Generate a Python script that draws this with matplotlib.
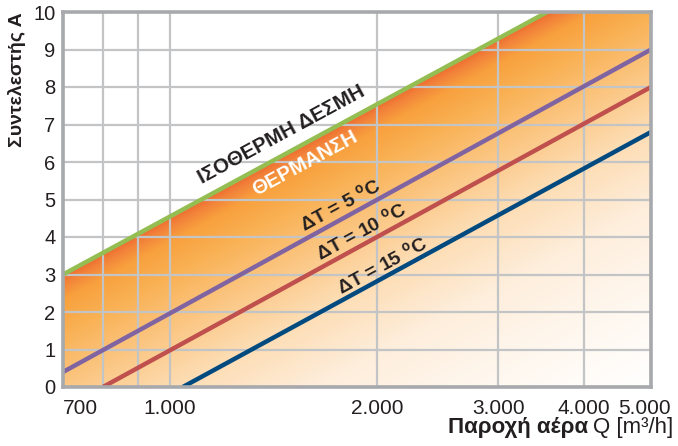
"""Coefficient A vs air flow Q chart (isothermal / heating lines)."""

import matplotlib
matplotlib.use("Agg")
import matplotlib.pyplot as plt
import numpy as np

plt.rcParams["font.family"] = ["Liberation Sans", "DejaVu Sans"]
plt.rcParams["mathtext.fontset"] = "custom"
plt.rcParams["mathtext.rm"] = "Liberation Sans"
plt.rcParams["mathtext.bf"] = "Liberation Sans:bold"

# --- data --------------------------------------------------------------
x_ticks = [700, 1000, 2000, 3000, 4000, 5000]
x_tick_labels = ["700", "1.000", "2.000", "3.000", "4.000", "5.000"]
y_ticks = list(range(0, 11))
x_minor_grid = [800, 900]

isotherm_q = [700, 5000]
isotherm_a = [3.0, 11.5]
dt5_q = [700, 5000]
dt5_a = [0.4, 9.0]
dt10_q = [800, 5000]
dt10_a = [0.0, 8.0]
dt15_q = [1045, 5000]
dt15_a = [0.0, 6.8]

TEXT = "#231f20"
GRID = "#c3c4c6"
SPINE = "#a7a9ac"

fig = plt.figure(figsize=(6.78, 4.46), dpi=100)
pos = [63 / 678, 1 - 387 / 446, (651 - 63) / 678, (387 - 12) / 446]

# background gradient on its own axes (axes fraction coordinates)
bg = fig.add_axes(pos)
bg.axis("off")

ax = fig.add_axes(pos)
ax.patch.set_alpha(0)
ax.set_xscale("log")
ax.set_xlim(700, 5000)
ax.set_ylim(0, 10)

# angle of the (parallel) lines on screen
p0 = ax.transData.transform((isotherm_q[0], isotherm_a[0]))
p1 = ax.transData.transform((isotherm_q[1], isotherm_a[1]))
theta = np.degrees(np.arctan2(p1[1] - p0[1], p1[0] - p0[0]))
px_per_unit = ax.transData.transform((1000, 1))[1] - ax.transData.transform((1000, 0))[1]

nx, ny = 600, 380
lo, hi = np.log10(700), np.log10(5000)
U, V = np.meshgrid(np.linspace(0, 1, nx), np.linspace(0, 1, ny))
logq = lo + U * (hi - lo)
A = V * 10
green_at = np.interp(logq, np.log10(isotherm_q), isotherm_a)
d = green_at - A
p = d * px_per_unit * np.cos(np.radians(theta))

stops = [0, 8, 22, 50, 95, 150, 220, 300, 380]
cols = ["#ee6a2f", "#f2823a", "#f8a03e", "#f9b052", "#fbc47e",
        "#fddcb2", "#feeedc", "#fff8f0", "#ffffff"]
rgb = np.array([matplotlib.colors.to_rgb(c) for c in cols])
img = np.zeros((ny, nx, 4))
for i in range(3):
    img[..., i] = np.interp(p, stops, rgb[:, i])
img[..., 3] = (d >= 0).astype(float)
bg.imshow(img, origin="lower", extent=(0, 1, 0, 1), aspect="auto",
          interpolation="bilinear")
bg.set_xlim(0, 1)
bg.set_ylim(0, 1)

# grid
ax.set_axisbelow(True)
ax.set_xticks(x_ticks)
ax.set_xticks(x_minor_grid, minor=True)
ax.set_xticklabels([])
ax.set_xticklabels([], minor=True)
ax.set_yticks(y_ticks)
ax.grid(True, which="both", color=GRID, linewidth=1.6)
ax.tick_params(axis="both", which="both", length=0)
ax.tick_params(axis="y", labelsize=14.5, labelcolor=TEXT, pad=5.5)
for s in ax.spines.values():
    s.set_color(SPINE)
    s.set_linewidth(2.6)
    s.set_zorder(5)

# x tick labels drawn manually (700 left aligned, 5.000 nudged left)
for q, lab in zip(x_ticks, x_tick_labels):
    ha = "left" if q == 700 else "center"
    dx = -7 if q == 5000 else 0
    ax.annotate(lab, xy=(q, 0), xycoords=("data", "axes fraction"),
                xytext=(dx, -27), textcoords="offset pixels",
                ha=ha, va="baseline", fontsize=15, color=TEXT,
                annotation_clip=False)

# lines
lw = 3.2
ax.plot(isotherm_q, isotherm_a, color="#94bd52", lw=lw, solid_capstyle="butt", zorder=3)
ax.plot(dt5_q, dt5_a, color="#8064a2", lw=lw, solid_capstyle="butt", zorder=3)
ax.plot(dt10_q, dt10_a, color="#c0504d", lw=lw, solid_capstyle="butt", zorder=3)
ax.plot(dt15_q, dt15_a, color="#004a80", lw=lw, solid_capstyle="butt", zorder=3)

# labels along the lines
kw = dict(rotation=theta, rotation_mode="anchor", ha="center", va="center",
          fontweight="bold", zorder=4)
ax.text(1453, 6.72, "ΙΣΟΘΕΡΜΗ ΔΕΣΜΗ", color=TEXT, fontsize=14.8, **kw)
ax.text(1570, 5.97, "ΘΕΡΜΑΝΣΗ", color="white", fontsize=14.8, **kw)
ax.text(1770, 4.85, r"ΔT = 5 $^{\mathbf{o}}$C", color=TEXT, fontsize=14, **kw)
ax.text(1898, 4.13, r"ΔT = 10 $^{\mathbf{o}}$C", color=TEXT, fontsize=14, **kw)
ax.text(2036, 3.23, r"ΔT = 15 $^{\mathbf{o}}$C", color=TEXT, fontsize=14, **kw)

# axis titles
fig.text(17 / 678, 1 - 12 / 446, "Συντελεστής Α", rotation=90, ha="center",
         va="top", fontsize=14, fontweight="bold", color=TEXT)
unit = fig.text(673 / 678, 1 - 433 / 446, "Q [m³/h]", ha="right",
                va="baseline", fontsize=16, color=TEXT)
fig.canvas.draw()
ext = unit.get_window_extent()
fig.text((ext.x0 - 5) / 678, 1 - 433 / 446, "Παροχή αέρα", ha="right",
         va="baseline", fontsize=16, fontweight="bold", color=TEXT)

fig.savefig("out.png", dpi=100)
